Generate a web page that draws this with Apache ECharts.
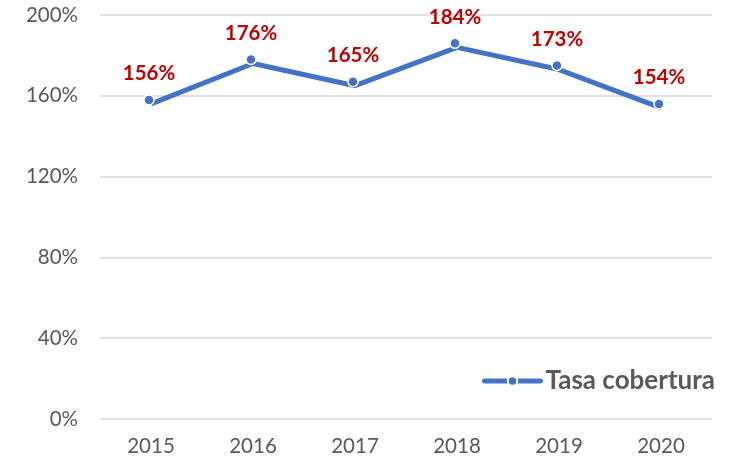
<!DOCTYPE html>
<html><head><meta charset="utf-8">
<script src="https://cdn.jsdelivr.net/npm/echarts@6/dist/echarts.min.js"></script>
<style>html,body{margin:0;padding:0;background:#fff}#c{width:729px;height:463px}</style>
</head><body><div id="c"></div>
<script>
const categories = ['2015','2016','2017','2018','2019','2020'];
const seriesName = 'Tasa cobertura';
const values = [156, 176, 165, 184, 173, 154];
const yTicks = {min: 0, max: 200, interval: 40};

const chart = echarts.init(document.getElementById('c'));
const FONT = 'Lato, "Liberation Sans", sans-serif';
chart.setOption({
  animation: false,
  grid: {left: 100, right: 17, top: 15, bottom: 44},
  legend: {
    data: [seriesName], left: 477, top: 363,
    itemWidth: 56, itemHeight: 12, itemGap: 5,
    lineStyle: {width: 5, cap: 'round'},
    textStyle: {color: '#595959', fontSize: 26, fontWeight: 'bold', fontFamily: FONT}
  },
  xAxis: {
    type: 'category', data: categories,
    axisLine: {show: false}, axisTick: {show: false},
    axisLabel: {color: '#595959', fontSize: 20.5, fontFamily: FONT, margin: 17}
  },
  yAxis: {
    type: 'value', min: yTicks.min, max: yTicks.max, interval: yTicks.interval,
    axisLine: {show: false}, axisTick: {show: false},
    splitLine: {lineStyle: {color: '#d9d9d9', width: 1.5}},
    axisLabel: {color: '#595959', fontSize: 20.5, fontFamily: FONT, margin: 22, formatter: '{value}%'}
  },
  series: [{
    name: seriesName, type: 'line', data: values,
    lineStyle: {color: '#4472C4', width: 5},
    itemStyle: {color: '#4472C4', borderColor: '#fff', borderWidth: 1.5},
    symbol: 'circle', symbolSize: 10, symbolOffset: [-2, -4],
    label: {show: true, position: 'top', distance: 10, color: '#C00000', fontSize: 20.5,
      fontWeight: 'bold', fontFamily: FONT, formatter: p => p.value + '%'}
  }]
});
</script></body></html>
